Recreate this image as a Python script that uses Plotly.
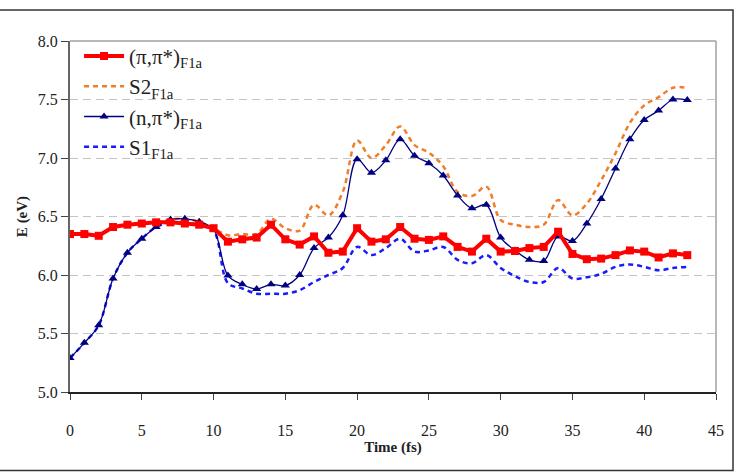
import plotly.graph_objects as go

t = list(range(0, 44))

pipi = [6.35, 6.35, 6.335, 6.41, 6.43, 6.44, 6.45, 6.45, 6.44, 6.43, 6.40,
        6.285, 6.305, 6.32, 6.43, 6.305, 6.26, 6.33, 6.19, 6.20, 6.40,
        6.285, 6.305, 6.41, 6.31, 6.30, 6.33, 6.24, 6.20, 6.31, 6.20,
        6.205, 6.23, 6.24, 6.37, 6.18, 6.135, 6.14, 6.17, 6.21, 6.20,
        6.15, 6.185, 6.17]

npi = [5.29, 5.42, 5.57, 5.97, 6.19, 6.31, 6.41, 6.475, 6.48, 6.455, 6.39,
       5.995, 5.92, 5.88, 5.92, 5.91, 6.00, 6.23, 6.32, 6.51, 6.99,
       6.875, 6.98, 7.16, 7.02, 6.955, 6.85, 6.68, 6.57, 6.60, 6.32,
       6.21, 6.13, 6.12, 6.33, 6.29, 6.44, 6.65, 6.91, 7.16, 7.325,
       7.405, 7.50, 7.495]

s2 = [6.35, 6.35, 6.335, 6.41, 6.43, 6.44, 6.45, 6.475, 6.48, 6.455, 6.40,
      6.34, 6.35, 6.35, 6.48, 6.40, 6.38, 6.60, 6.51, 6.71, 7.15,
      7.00, 7.11, 7.27, 7.11, 7.045, 6.93, 6.71, 6.675, 6.755, 6.47,
      6.43, 6.41, 6.43, 6.64, 6.51, 6.61, 6.81, 7.04, 7.30, 7.45,
      7.52, 7.60, 7.60]

s1 = [5.29, 5.42, 5.57, 5.97, 6.19, 6.31, 6.41, 6.45, 6.44, 6.43, 6.38,
      5.93, 5.885, 5.84, 5.84, 5.84, 5.87, 5.94, 6.00, 6.06, 6.24,
      6.17, 6.23, 6.31, 6.20, 6.21, 6.24, 6.13, 6.10, 6.17, 6.06,
      5.99, 5.94, 5.94, 6.06, 5.97, 5.98, 6.01, 6.07, 6.09, 6.07,
      6.04, 6.06, 6.07]

x_ticks = [0, 5, 10, 15, 20, 25, 30, 35, 40, 45]
y_ticks = [5.0, 5.5, 6.0, 6.5, 7.0, 7.5, 8.0]

SERIF = "Liberation Serif"

fig = go.Figure()
fig.add_trace(go.Scatter(x=t, y=s1, name="S1<sub>F1a</sub>", mode="lines",
                         line=dict(color="#1a1aff", width=2.5, dash="5px,4px", shape="spline"),
                         legendrank=4))
fig.add_trace(go.Scatter(x=t, y=s2, name="S2<sub>F1a</sub>", mode="lines",
                         line=dict(color="#f07d2a", width=2.5, dash="5px,4px", shape="spline"),
                         legendrank=2))
fig.add_trace(go.Scatter(x=t, y=npi, name="(n,π*)<sub>F1a</sub>", mode="lines+markers",
                         line=dict(color="#000080", width=1.3, shape="spline"),
                         marker=dict(symbol="triangle-up", size=8, color="#000080"),
                         legendrank=3))
fig.add_trace(go.Scatter(x=t, y=pipi, name="(π,π*)<sub>F1a</sub>", mode="lines+markers",
                         line=dict(color="#ff0000", width=4),
                         marker=dict(symbol="square", size=8, color="#ff0000"),
                         legendrank=1))

fig.update_layout(
    width=749, height=474,
    margin=dict(l=70, r=33, t=41, b=82),
    paper_bgcolor="white", plot_bgcolor="white",
    font=dict(family=SERIF, color="#222", size=16),
    showlegend=True,
    legend=dict(x=0.014, y=1.015, xanchor="left", yanchor="top",
                bgcolor="rgba(255,255,255,0)", font=dict(family=SERIF, size=21, color="#222"),
                tracegroupgap=0, itemwidth=40),
    xaxis=dict(range=[0, 45], tickvals=x_ticks, ticktext=[str(v) for v in x_ticks],
               showgrid=False, zeroline=False, automargin=False,
               showline=True, linecolor="#222", linewidth=1.5,
               ticks="outside", ticklen=6, tickcolor="#444", tickwidth=1,
               ticklabelstandoff=17,
               tickfont=dict(family=SERIF, size=16, color="#222"),
               title=dict(text="<b>Time (fs)</b>", font=dict(family=SERIF, size=15, color="#222"),
                          standoff=2)),
    yaxis=dict(range=[5, 8], tickvals=y_ticks, ticktext=[f"{v:.1f}" for v in y_ticks],
               showgrid=True, gridcolor="#c4c4c4", griddash="8px,5px", gridwidth=1,
               zeroline=False, automargin=False,
               showline=True, linecolor="#666", linewidth=2,
               ticks="outside", ticklen=7, tickcolor="#444", tickwidth=1,
               tickfont=dict(family=SERIF, size=16, color="#222"),
               title=dict(text="<b>E (eV)</b>", font=dict(family=SERIF, size=15, color="#222"),
                          standoff=7)),
    shapes=[
        dict(type="line", xref="paper", yref="paper", x0=0, x1=1, y0=1, y1=1,
             line=dict(color="#a0a0a0", width=1.5)),
        dict(type="line", xref="paper", yref="paper", x0=1, x1=1, y0=0, y1=1,
             line=dict(color="#a0a0a0", width=1.5)),
        dict(type="rect", xref="paper", yref="paper",
             x0=(-2 - 70) / 646, x1=(733 - 70) / 646,
             y0=(392 - 470.5) / 351, y1=(392 - 10) / 351,
             line=dict(color="#333", width=1.5), layer="below"),
    ],
)

fig.write_html("out.html")
